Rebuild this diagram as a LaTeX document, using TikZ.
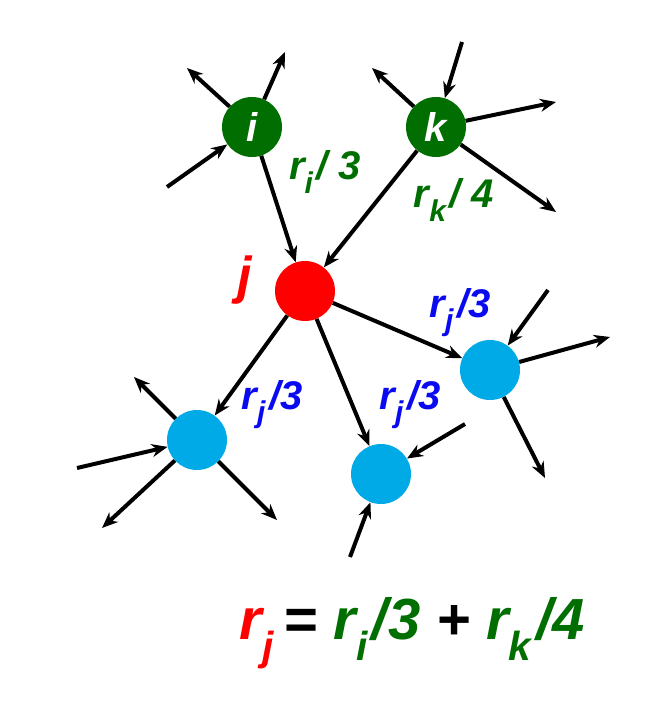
\documentclass[tikz,border=0pt]{standalone}
\usepackage{fontspec}
\setmainfont{Liberation Sans}
\usetikzlibrary{arrows.meta}
\definecolor{dg}{RGB}{0,110,0}
\definecolor{bl}{RGB}{0,170,230}
\definecolor{lb}{RGB}{10,10,240}
\tikzset{
 nd/.style={circle,minimum size=60pt,inner sep=0pt,font=\bfseries\itshape\fontsize{40}{40}\selectfont},
 ar/.style={line width=4pt,-{Stealth[length=16pt,width=13pt]}},
 lab/.style={font=\bfseries\itshape\fontsize{40}{44}\selectfont}
}
\newcommand{\sbs}[1]{\textsubscript{\fontsize{30}{30}\selectfont #1}\kern3pt}
\newcommand{\bsb}[1]{\textsubscript{#1}\kern4pt}
\begin{document}
\begin{tikzpicture}[x=1pt,y=-1pt]
\useasboundingbox (0,0) rectangle (650,708);
\node[nd,fill=dg,text=white] (i) at (252,127) {i};
\node[nd,fill=dg,text=white] (k) at (436,127) {k};
\node[nd,fill=red] (j) at (305,291) {};
\node[nd,fill=bl] (b1) at (197,440) {};
\node[nd,fill=bl] (b2) at (381,474) {};
\node[nd,fill=bl] (b3) at (490,370) {};
\foreach \n/\x/\y in {a1/187/68,a2/285/52,a3/167/187,a4/462/42,a5/372/68,a6/556/102,a7/556/212,
 a8/134/377,a9/102/528,a10/277/520,a11/77/468,a12/465/424,a13/350/557,a14/548/290,a15/610/337,a16/545/478}
 \coordinate (\n) at (\x,\y);
\draw[ar] (i) -- (a1); \draw[ar] (i) -- (a2); \draw[ar] (a3) -- (i);
\draw[ar] (a4) -- (k); \draw[ar] (k) -- (a5); \draw[ar] (k) -- (a6); \draw[ar] (k) -- (a7);
\draw[ar] (i) -- (j); \draw[ar] (k) -- (j);
\draw[ar] (j) -- (b1); \draw[ar] (j) -- (b2); \draw[ar] (j) -- (b3);
\draw[ar] (b1) -- (a8); \draw[ar] (b1) -- (a9); \draw[ar] (b1) -- (a10); \draw[ar] (a11) -- (b1);
\draw[ar] (a12) -- (b2); \draw[ar] (a13) -- (b2);
\draw[ar] (a14) -- (b3); \draw[ar] (b3) -- (a15); \draw[ar] (b3) -- (a16);
\node[lab,text=dg] (l1) at (325,172) {r\sbs{i}/ 3};
\node[lab,text=dg] (l2) at (454,200) {r\sbs{k}/ 4};
\node[lab,text=red,font=\bfseries\itshape\fontsize{52}{52}\selectfont] (lj) at (245,280) {j};
\node[lab,text=lb] (l3) at (460,313) {r\sbs{j}/3};
\node[lab,text=lb] (l4) at (272,405) {r\sbs{j}/3};
\node[lab,text=lb] (l5) at (410,405) {r\sbs{j}/3};
\node[font=\bfseries\itshape\fontsize{58}{64}\selectfont] (eq) at (412,633)
 {\textcolor{red}{r\textsubscript{j}}\,= \textcolor{dg}{r\bsb{i}/3} + \textcolor{dg}{r\bsb{k}/4}};
\end{tikzpicture}
\end{document}
